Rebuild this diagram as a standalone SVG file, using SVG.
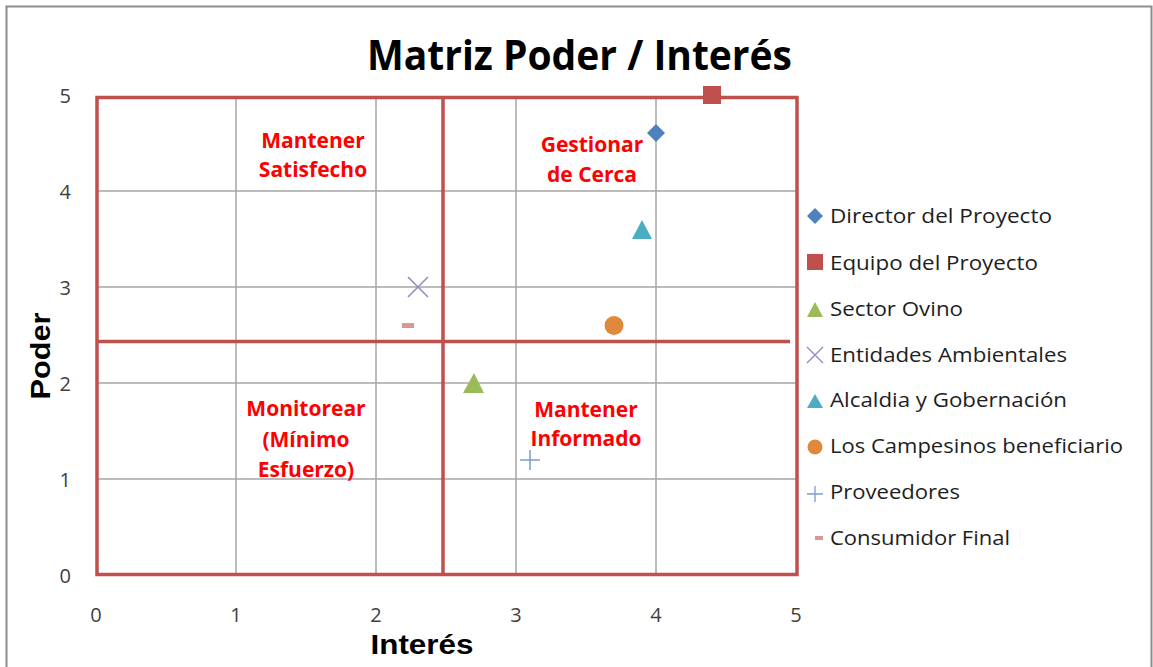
<svg xmlns="http://www.w3.org/2000/svg" width="1153" height="667" viewBox="0 0 1153 667">
<style>
text{font-family:"Open Sans","Liberation Sans",sans-serif;}
.tick{font-size:20px;fill:#404040;}
.quad{font-size:21px;font-weight:bold;fill:#ff0000;text-anchor:middle;}
.leg{font-size:20.5px;fill:#1e1e1e;}
.grid{stroke:#a6a6a6;stroke-width:1.5;fill:none;}
.red{stroke:#c0504d;stroke-width:3.5;fill:none;}
.axis{font-family:"Liberation Sans",sans-serif;font-size:28px;font-weight:bold;fill:#000;}
</style>
<rect x="0" y="0" width="1153" height="667" fill="#fff"/>
<path d="M6.5,667 V6.5 H1151.5 V667" fill="none" stroke="#8c8c8c" stroke-width="2"/>
<g id="title"><text x="367" y="70" font-size="41" font-weight="bold" textLength="425" lengthAdjust="spacingAndGlyphs">Matriz Poder / Interés</text></g>
<g id="grid">
<path class="grid" d="M236,97V575M376,97V575M516,97V575M656,97V575M97,191H797M97,287H797M97,383H797M97,479H797"/>
</g>
<g id="quadrants">
<rect class="red" x="97" y="97.5" width="700" height="477"/>
<path class="red" d="M443,97.5V574.5M97,341.5H790"/>
</g>
<g id="y-ticks" class="tick">
<text x="71" y="103" text-anchor="end">5</text>
<text x="71" y="199" text-anchor="end">4</text>
<text x="71" y="295" text-anchor="end">3</text>
<text x="71" y="391" text-anchor="end">2</text>
<text x="71" y="487" text-anchor="end">1</text>
<text x="71" y="583" text-anchor="end">0</text>
</g>
<g id="x-ticks" class="tick">
<text x="96" y="622" text-anchor="middle">0</text>
<text x="236" y="622" text-anchor="middle">1</text>
<text x="376" y="622" text-anchor="middle">2</text>
<text x="516" y="622" text-anchor="middle">3</text>
<text x="656" y="622" text-anchor="middle">4</text>
<text x="796" y="622" text-anchor="middle">5</text>
</g>
<g id="axis-titles">
<text class="axis" x="422" y="654" text-anchor="middle" textLength="103" lengthAdjust="spacingAndGlyphs">Interés</text>
<text class="axis" transform="translate(50,356) rotate(-90)" text-anchor="middle" textLength="87" lengthAdjust="spacingAndGlyphs">Poder</text>
</g>
<g id="q-satisfecho"><text class="quad" x="313" y="148">Mantener</text><text class="quad" x="313" y="177">Satisfecho</text></g>
<g id="q-cerca"><text class="quad" x="592" y="152">Gestionar</text><text class="quad" x="592" y="182">de Cerca</text></g>
<g id="q-monitorear"><text class="quad" x="306" y="416">Monitorear</text><text class="quad" x="306" y="447">(Mínimo</text><text class="quad" x="306" y="477">Esfuerzo)</text></g>
<g id="q-informado"><text class="quad" x="586" y="417">Mantener</text><text class="quad" x="586" y="446">Informado</text></g>
<g id="points">
<polygon id="p-director" points="656,124 665,133 656,142 647,133" fill="#4f81bd"/>
<rect id="p-equipo" x="703" y="86" width="18" height="18" fill="#c0504d"/>
<polygon id="p-ovino" points="474,373 484,393 463,393" fill="#9bbb59"/>
<path id="p-entidades" d="M408,277L428,297M428,277L408,297" stroke="#9a88c0" stroke-width="1.6"/>
<polygon id="p-alcaldia" points="642,220 652,239 632,239" fill="#4bacc6"/>
<circle id="p-campesinos" cx="614" cy="325.5" r="9.5" fill="#e0893d"/>
<path id="p-proveedores" d="M520,460H540M530,450V470" stroke="#7c9ad0" stroke-width="1.5"/>
<rect id="p-consumidor" x="402" y="323" width="12" height="5" fill="#d99694"/>
</g>
<g id="legend">
<polygon points="815,208 823,216 815,224 807,216" fill="#4f81bd"/>
<text class="leg" x="830" y="223" textLength="222" lengthAdjust="spacingAndGlyphs">Director del Proyecto</text>
<rect x="807" y="254" width="16" height="16" fill="#c0504d"/>
<text class="leg" x="830" y="270" textLength="208" lengthAdjust="spacingAndGlyphs">Equipo del Proyecto</text>
<polygon points="815,302 823,317 807,317" fill="#9bbb59"/>
<text class="leg" x="830" y="316" textLength="133" lengthAdjust="spacingAndGlyphs">Sector Ovino</text>
<path d="M807,347L823,363M823,347L807,363" stroke="#9a88c0" stroke-width="1.4"/>
<text class="leg" x="830" y="362" textLength="237" lengthAdjust="spacingAndGlyphs">Entidades Ambientales</text>
<polygon points="815,394 823,408 807,408" fill="#4bacc6"/>
<text class="leg" x="830" y="407" textLength="237" lengthAdjust="spacingAndGlyphs">Alcaldia y Gobernación</text>
<circle cx="815" cy="447" r="7.5" fill="#e0893d"/>
<text class="leg" x="830" y="453" textLength="293" lengthAdjust="spacingAndGlyphs">Los Campesinos beneficiario</text>
<path d="M807,494H823M815,486V502" stroke="#7c9ad0" stroke-width="1.3"/>
<text class="leg" x="830" y="499" textLength="130" lengthAdjust="spacingAndGlyphs">Proveedores</text>
<rect x="815" y="536" width="8" height="4" fill="#d99694"/>
<text class="leg" x="830" y="545" textLength="180" lengthAdjust="spacingAndGlyphs">Consumidor Final</text>
</g>
</svg>
